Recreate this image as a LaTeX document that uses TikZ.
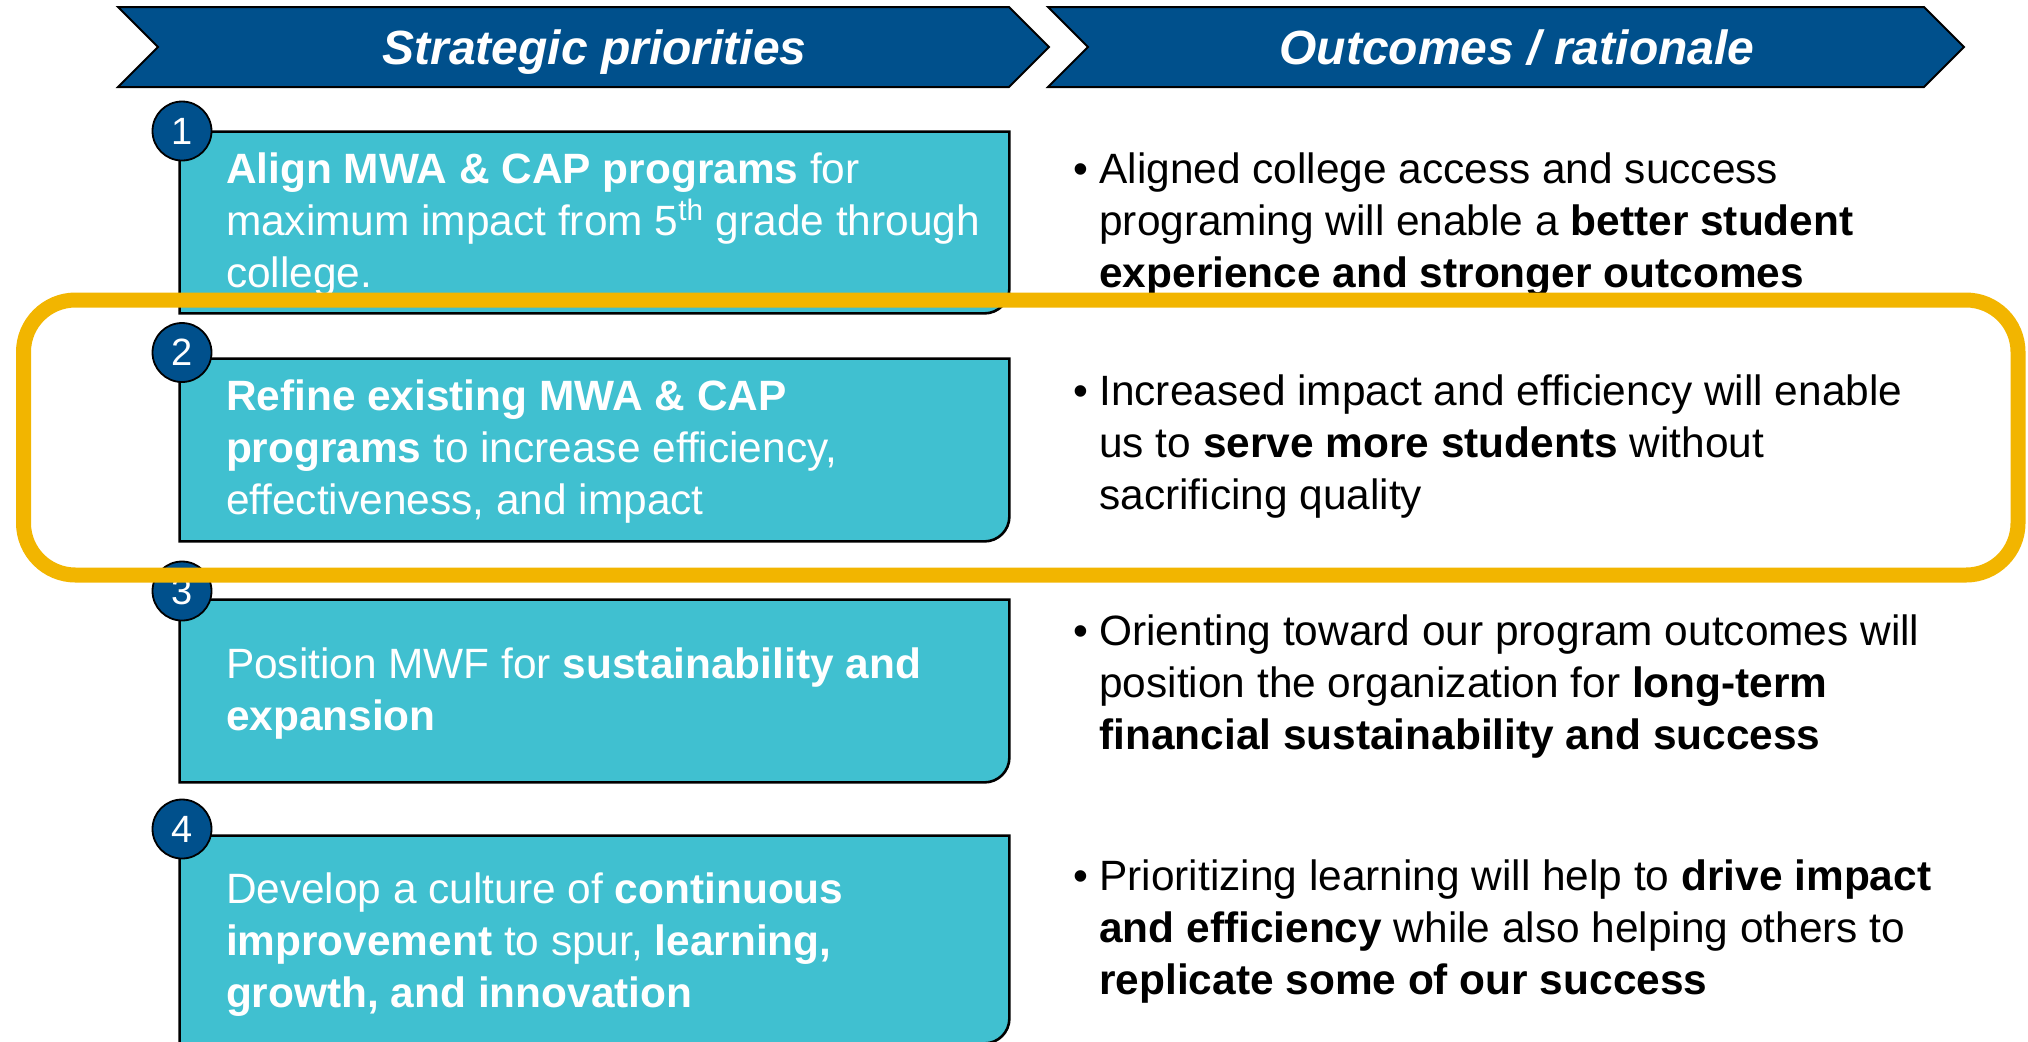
\documentclass[tikz,border=0pt]{standalone}
\usepackage{fontspec}
\setmainfont{Liberation Sans}
\usetikzlibrary{shapes.symbols}

\definecolor{mwfblue}{RGB}{0,80,140}
\definecolor{mwfteal}{RGB}{64,192,208}
\definecolor{mwfgold}{RGB}{242,181,0}

\newcommand{\headfont}{\fontsize{24}{28}\selectfont\bfseries\itshape}
\newcommand{\bodyfont}{\fontsize{21.2}{26}\selectfont}
\newcommand{\numfont}{\fontsize{19}{22}\selectfont}
\newcommand{\outbullet}{\makebox[13pt][l]{\textbullet}}
\newcommand{\outindent}{\hspace*{13pt}}

\tikzset{
  header/.style={shape=signal, signal to=east, signal from=west, signal pointer angle=90,
    fill=mwfblue, draw=black, line width=1pt, minimum height=40pt, inner sep=0pt,
    text height=22.7pt, text depth=5pt, text=white, font=\headfont},
  prio/.style={minimum width=414.5pt, inner sep=0pt},
  prio shape/.style={fill=mwfteal, draw=black, line width=1.3pt},
  prio text/.style={anchor=west, align=left, text=white, font=\bodyfont, inner sep=0pt},
  badge/.style={circle, minimum size=29.5pt, inner sep=0pt, fill=mwfblue, draw=black,
    line width=0.9pt, text=white, font=\numfont},
  outcome/.style={anchor=west, align=left, font=\bodyfont, inner sep=0pt},
  focus/.style={draw=mwfgold, line width=7.5pt, rounded corners=26pt}
}

\begin{document}
\begin{tikzpicture}[x=0.5pt, y=-0.5pt]
   \useasboundingbox (0,0) rectangle (2028,1041);

   \node (Priorities) at (583.5,47) [header, minimum width=465.5pt] {\hspace*{11pt}Strategic priorities};
   \node (Outcomes) at (1506,47) [header, minimum width=458pt] {\hspace*{11pt}Outcomes / rationale};

   \node (Align) at (594.5,222.5) [prio, minimum height=90.5pt] {};
   \node (Refine) at (594.5,450) [prio, minimum height=91pt] {};
   \node (Position) at (594.5,691) [prio, minimum height=91pt] {};
   \node (Develop) at (594.5,939.5) [prio, minimum height=103.5pt] {};

   % teal boxes, only the lower right corner is rounded
   \foreach \p in {Align,Refine,Position,Develop}
      \draw [prio shape] (\p.north west) -- (\p.north east) -- ([yshift=12.5pt]\p.south east)
         arc [start angle=0, end angle=-90, radius=12.5pt] -- (\p.south west) -- cycle;

   \node (AlignText) at ([xshift=23pt,yshift=-1pt]Align.west) [prio text]
      {\textbf{Align MWA \& CAP programs} for\\
       maximum impact from 5\textsuperscript{th} grade through\\
       college.};
   \node (RefineText) at ([xshift=23pt,yshift=-1pt]Refine.west) [prio text]
      {\textbf{Refine existing MWA \& CAP}\\
       \textbf{programs} to increase efficiency,\\
       effectiveness, and impact};
   \node (PositionText) at ([xshift=23pt,yshift=-1.5pt]Position.west) [prio text]
      {Position MWF for \textbf{sustainability and}\\
       \textbf{expansion}};
   \node (DevelopText) at ([xshift=23pt,yshift=-2.5pt]Develop.west) [prio text]
      {Develop a culture of \textbf{continuous}\\
       \textbf{improvement} to spur, \textbf{learning,}\\
       \textbf{growth, and innovation}};

   \node (AlignNo) at (182,131) [badge] {1};
   \node (RefineNo) at (182,352.5) [badge] {2};
   \node (PositionNo) at (182,591) [badge] {3};
   \node (DevelopNo) at (182,829) [badge] {4};

   \node (AccessOutcome) at (1073,225) [outcome]
      {\outbullet Aligned college access and success\\
       \outindent programing will enable a \textbf{better student}\\
       \outindent\textbf{experience and stronger outcomes}};
   \node (ServeOutcome) at (1073,447) [outcome]
      {\outbullet Increased impact and efficiency will enable\\
       \outindent us to \textbf{serve more students} without\\
       \outindent sacrificing quality};
   \node (LongTermOutcome) at (1073,687) [outcome]
      {\outbullet Orienting toward our program outcomes will\\
       \outindent position the organization for \textbf{long-term}\\
       \outindent\textbf{financial sustainability and success}};
   \node (DriveOutcome) at (1073,932) [outcome]
      {\outbullet Prioritizing learning will help to \textbf{drive impact}\\
       \outindent\textbf{and efficiency} while also helping others to\\
       \outindent\textbf{replicate some of our success}};

   % highlight round the second row
   \draw [focus] (23.5,300) rectangle (2018,575);

\end{tikzpicture}
\end{document}
